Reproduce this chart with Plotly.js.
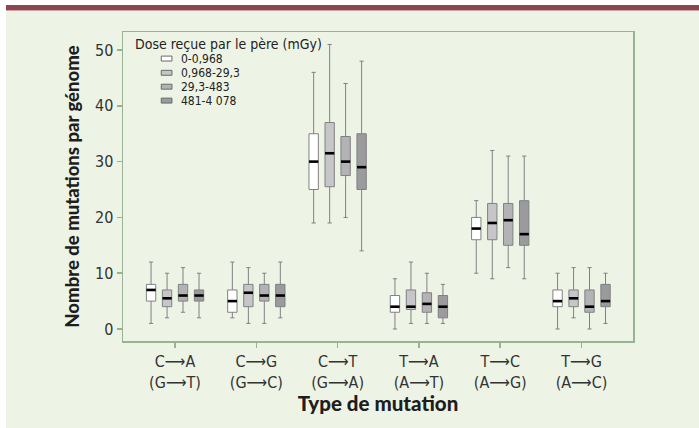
<!DOCTYPE html>
<html>
<head>
<meta charset="utf-8">
<script src="https://cdn.plot.ly/plotly-3.0.1.min.js"></script>
<style>
  html, body { margin:0; padding:0; background:#ffffff; width:699px; height:428px; overflow:hidden; }
  #band { position:absolute; left:6px; top:5px; width:693px; height:5px; background:#8a4752; border-bottom:1px solid #d2a2a8; }
  #chart { position:absolute; left:6px; top:11px; width:693px; height:417px; }
</style>
</head>
<body>
<div id="band"></div>
<div id="chart"></div>
<script>
// ---- data ----
const mutFrom = ['C⟶A', 'C⟶G', 'C⟶T', 'T⟶A', 'T⟶C', 'T⟶G'];
const mutComp = ['(G⟶T)', '(G⟶C)', '(G⟶A)', '(A⟶T)', '(A⟶G)', '(A⟶C)'];
const doseLabels = ['0-0,968', '0,968-29,3', '29,3-483', '481-4 078'];
const legendTitle = 'Dose reçue par le père (mGy)';

// dose 0-0,968
const lower1 = [1, 2, 19, 0, 10, 0];
const q1_1   = [5, 3, 25, 3, 16, 4];
const med1   = [7, 5, 30, 4, 18, 5];
const q3_1   = [8, 7, 35, 6, 20, 7];
const upper1 = [12, 12, 46, 9, 23, 10];
// dose 0,968-29,3
const lower2 = [2, 1, 19, 1, 9, 2];
const q1_2   = [4, 4, 25.5, 3.5, 16, 4];
const med2   = [5.5, 6.5, 31.5, 4, 19, 5.5];
const q3_2   = [7, 8, 37, 7, 22.5, 7];
const upper2 = [10, 11, 51, 12, 32, 11];
// dose 29,3-483
const lower3 = [3, 1, 20, 1, 11, 0];
const q1_3   = [5, 5, 27.5, 3, 15, 3];
const med3   = [6, 6, 30, 4.5, 19.5, 4];
const q3_3   = [8, 8, 34.5, 6.5, 22.5, 7];
const upper3 = [11, 10, 44, 10, 31, 11];
// dose 481-4 078
const lower4 = [2, 2, 14, 1, 9, 1];
const q1_4   = [5, 4, 25, 2, 15, 4];
const med4   = [6, 6, 29, 4, 17, 5];
const q3_4   = [7, 8, 35, 6, 23, 8];
const upper4 = [10, 12, 48, 8, 31, 10];

const yTicks = [0, 10, 20, 30, 40, 50];

// ---- styling ----
const fills = ['#ffffff', '#c6c6c8', '#b3b3b5', '#9b9b9d'];
const offsets = [-0.295, -0.098, 0.098, 0.295];
const boxW = 0.115;
const green = '#97b391';
const bg = '#eef4e5';
const tickFont = 'DejaVu Sans Condensed, Liberation Sans Narrow, DejaVu Sans, sans-serif';
const titleFont = 'Lato, Open Sans, sans-serif';

const series = [
  {lo: lower1, q1: q1_1, md: med1, q3: q3_1, hi: upper1},
  {lo: lower2, q1: q1_2, md: med2, q3: q3_2, hi: upper2},
  {lo: lower3, q1: q1_3, md: med3, q3: q3_3, hi: upper3},
  {lo: lower4, q1: q1_4, md: med4, q3: q3_4, hi: upper4}
];
const catIdx = mutFrom.map((_, i) => i);

const traces = [];
series.forEach((s, k) => {
  const xs = catIdx.map(i => i + offsets[k]);
  traces.push({
    type: 'box', name: doseLabels[k], x: xs,
    q1: s.q1, median: s.md, q3: s.q3, lowerfence: s.lo, upperfence: s.hi,
    width: boxW, whiskerwidth: 0.45, boxpoints: false,
    fillcolor: fills[k], line: {color: '#808082', width: 1},
    hoverinfo: 'skip', showlegend: false
  });
});
series.forEach((s, k) => {
  const xs = catIdx.map(i => i + offsets[k]);
  traces.push({
    type: 'scatter', mode: 'markers', x: xs, y: s.md,
    marker: {symbol: 'line-ew', size: 6.6, color: '#000', line: {color: '#000', width: 2.6}},
    hoverinfo: 'skip', showlegend: false
  });
});

// custom compact legend (annotations + swatches), in paper coords
const annotations = [{
  xref: 'paper', yref: 'paper', x: 0.022, y: 0.962, xanchor: 'left', yanchor: 'middle',
  text: legendTitle, showarrow: false, borderpad: 0,
  font: {family: tickFont, size: 14, color: '#222'}
}];
const shapes = [];
const rowY = [0.914, 0.868, 0.823, 0.778];
doseLabels.forEach((lab, k) => {
  annotations.push({
    xref: 'paper', yref: 'paper', x: 0.112, y: rowY[k], xanchor: 'left', yanchor: 'middle',
    text: lab, showarrow: false, borderpad: 0,
    font: {family: tickFont, size: 12, color: '#222'}
  });
  shapes.push({
    type: 'rect', xref: 'paper', yref: 'paper',
    x0: 0.075, x1: 0.096, y0: rowY[k] - 0.008, y1: rowY[k] + 0.008,
    fillcolor: fills[k], line: {color: '#6a6a6a', width: 1}
  });
});

const layout = {
  width: 693, height: 417,
  margin: {l: 117, r: 66, t: 21, b: 87},
  paper_bgcolor: bg, plot_bgcolor: bg,
  showlegend: false,
  xaxis: {
    range: [-0.64, 5.633], tickvals: catIdx,
    ticktext: mutFrom.map((m, i) => m + '<br>' + mutComp[i]),
    showgrid: false, zeroline: false,
    showline: true, linecolor: green, linewidth: 1.5, mirror: true,
    ticks: 'outside', ticklen: 5, tickcolor: green, tickwidth: 1.5,
    tickfont: {family: tickFont, size: 16, color: '#333'},
    title: {text: 'Type de mutation', font: {family: titleFont, size: 20.5, color: '#1e1e1e', weight: 900}, standoff: 3}
  },
  yaxis: {
    range: [-2.15, 53.23], tickvals: yTicks,
    showgrid: false, zeroline: false,
    showline: true, linecolor: green, linewidth: 1.5, mirror: true,
    ticks: 'outside', ticklen: 5, tickcolor: green, tickwidth: 1.5,
    tickfont: {family: tickFont, size: 16, color: '#333'},
    title: {text: 'Nombre de mutations par génome', font: {family: titleFont, size: 18.5, color: '#1e1e1e', weight: 900}, standoff: 10}
  },
  annotations: annotations,
  shapes: shapes
};

Plotly.newPlot('chart', traces, layout, {displayModeBar: false, staticPlot: true});
</script>
</body>
</html>
